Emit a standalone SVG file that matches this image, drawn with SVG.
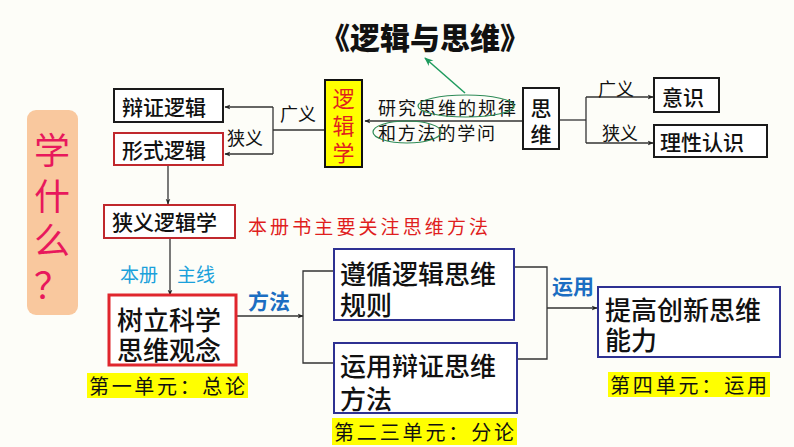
<svg xmlns="http://www.w3.org/2000/svg" width="794" height="447" viewBox="0 0 794 447">
<defs>
<marker id="arr" viewBox="0 0 10 10" refX="9" refY="5" markerWidth="6" markerHeight="6" orient="auto" markerUnits="userSpaceOnUse">
<path d="M0,1 L10,5 L0,9 L3,5 Z" fill="#222"/>
</marker>
<marker id="garr" viewBox="0 0 10 10" refX="9" refY="5" markerWidth="9" markerHeight="9" orient="auto" markerUnits="userSpaceOnUse">
<path d="M0,1 L10,5 L0,9 L3,5 Z" fill="#1E9B5E"/>
</marker>
<style>
text{font-family:"Noto Sans CJK SC","Noto Sans",sans-serif;dominant-baseline:central}
.box{fill:#fff;stroke-width:2}
.bk{stroke:#1a1a1a}
.dr{stroke:#C0282D}
.rd{stroke:#E0262D;stroke-width:3}
.bl{stroke:#2E3192}
.t21{font-size:21px;fill:#111;font-weight:500}
.t26{font-size:26px;fill:#111;font-weight:500}
.lab{font-size:18px;fill:#111}
.ln{fill:none;stroke:#333;stroke-width:1.3}
.hl{fill:#FFFF00}
.unit{font-size:20px;fill:#111}
.blue{font-size:21px;fill:#1B6EC2;font-weight:700}
.cyan{font-size:19px;fill:#1BA1DB}
</style>
</defs>
<rect width="794" height="447" fill="#FDFDF8"/>

<text x="425" y="36" text-anchor="middle" font-size="30" font-weight="900" fill="#111">《逻辑与思维》</text>

<g id="panel">
<rect x="27" y="110" width="51" height="205" rx="9" fill="#F9C89E"/>
<g font-size="36" fill="#E8185C" text-anchor="middle">
<text x="52" y="148">学</text>
<text x="52" y="194">什</text>
<text x="52" y="238">么</text>
<text x="52" y="283">？</text>
</g>
</g>

<g id="connectors">
<polyline class="ln" points="325,130 273,130"/>
<line class="ln" x1="273" y1="107" x2="273" y2="154"/>
<line class="ln" x1="273" y1="107" x2="225" y2="107" marker-end="url(#arr)"/>
<line class="ln" x1="273" y1="154" x2="225" y2="154" marker-end="url(#arr)"/>
<line class="ln" x1="523" y1="121" x2="365" y2="121" marker-end="url(#arr)"/>
<line x1="465" y1="93" x2="425" y2="58" stroke="#1E9B5E" stroke-width="1.5" marker-end="url(#garr)"/>
<line class="ln" x1="559" y1="120" x2="586" y2="120"/>
<line class="ln" x1="586" y1="97" x2="586" y2="143"/>
<line class="ln" x1="586" y1="97" x2="653" y2="97" marker-end="url(#arr)"/>
<line class="ln" x1="586" y1="143" x2="653" y2="143" marker-end="url(#arr)"/>
<line class="ln" x1="168" y1="165" x2="168" y2="204" marker-end="url(#arr)"/>
<line class="ln" x1="170" y1="238" x2="170" y2="295" marker-end="url(#arr)"/>
<line class="ln" x1="236" y1="316" x2="303" y2="316" marker-end="url(#arr)"/>
<polyline class="ln" points="333,271 303,271 303,363 333,363"/>
<polyline class="ln" points="515,267 547,267 547,359 517,359"/>
<line class="ln" x1="547" y1="308" x2="597" y2="308" marker-end="url(#arr)"/>
</g>

<g id="labels">
<text class="lab" x="280" y="113">广义</text>
<text class="lab" x="227" y="137">狭义</text>
<text class="lab" x="598" y="88">广义</text>
<text class="lab" x="602" y="132">狭义</text>
<text class="lab" x="378" y="107" textLength="138" lengthAdjust="spacing">研究思维的规律</text>
<text class="lab" x="378" y="132" textLength="117" lengthAdjust="spacing">和方法的学问</text>
<ellipse cx="466" cy="106" rx="48" ry="11" fill="none" stroke="#2E8B57" stroke-width="1.2"/>
<ellipse cx="407" cy="132" rx="34" ry="11" fill="none" stroke="#2E8B57" stroke-width="1.2"/>
<text x="248" y="225" font-size="19" fill="#E01E1E" textLength="240" lengthAdjust="spacing">本册书主要关注思维方法</text>
<text class="cyan" x="120" y="273">本册</text>
<text class="cyan" x="177" y="273">主线</text>
<text class="blue" x="248" y="300">方法</text>
<text class="blue" x="552" y="285">运用</text>
</g>

<g id="n-luojixue">
<rect x="325" y="80" width="37" height="87" fill="#FFFF00" stroke="#111" stroke-width="2"/>
<g font-size="22" fill="#E01E1E" text-anchor="middle">
<text x="343.5" y="97">逻</text>
<text x="343.5" y="124">辑</text>
<text x="343.5" y="151">学</text>
</g>
</g>

<g id="n-siwei">
<rect class="box bk" x="523" y="88" width="36" height="61"/>
<text class="t21" x="541" y="107" text-anchor="middle">思</text>
<text class="t21" x="541" y="133" text-anchor="middle">维</text>
</g>

<g id="n-bianzheng">
<rect class="box bk" x="114" y="89" width="109" height="33"/>
<text class="t21" x="122" y="106">辩证逻辑</text>
</g>

<g id="n-xingshi">
<rect class="box dr" x="114" y="133" width="109" height="32"/>
<text class="t21" x="122" y="149">形式逻辑</text>
</g>

<g id="n-yishi">
<rect class="box bk" x="654" y="78" width="65" height="34"/>
<text class="t21" x="662" y="96">意识</text>
</g>

<g id="n-lixing">
<rect class="box bk" x="654" y="125" width="113" height="32"/>
<text class="t21" x="660" y="141">理性认识</text>
</g>

<g id="n-xiayi">
<rect class="box dr" x="104" y="205" width="131" height="33"/>
<text class="t21" x="112" y="221">狭义逻辑学</text>
</g>

<g id="n-shuli">
<rect class="box rd" x="109" y="295" width="127" height="70"/>
<text class="t26" x="117" y="318">树立科学</text>
<text class="t26" x="117" y="348">思维观念</text>
</g>

<g id="n-zunxun">
<rect class="box bl" x="334" y="249" width="180" height="71"/>
<text class="t26" x="340" y="272">遵循逻辑思维</text>
<text class="t26" x="340" y="303">规则</text>
</g>

<g id="n-yunyong">
<rect class="box bl" x="334" y="343" width="183" height="70"/>
<text class="t26" x="340" y="364">运用辩证思维</text>
<text class="t26" x="340" y="397">方法</text>
</g>

<g id="n-tigao">
<rect class="box bl" x="598" y="287" width="182" height="70"/>
<text class="t26" x="605" y="308">提高创新思维</text>
<text class="t26" x="605" y="338">能力</text>
</g>

<g id="units">
<rect class="hl" x="87" y="373" width="161" height="25"/>
<text class="unit" x="89" y="385.5" textLength="156" lengthAdjust="spacing">第一单元：总论</text>
<rect class="hl" x="332" y="418" width="185" height="27"/>
<text class="unit" x="334" y="431.5" textLength="180" lengthAdjust="spacing">第二三单元：分论</text>
<rect class="hl" x="608" y="372" width="162" height="25"/>
<text class="unit" x="610" y="384.5" textLength="157" lengthAdjust="spacing">第四单元：运用</text>
</g>
</svg>
